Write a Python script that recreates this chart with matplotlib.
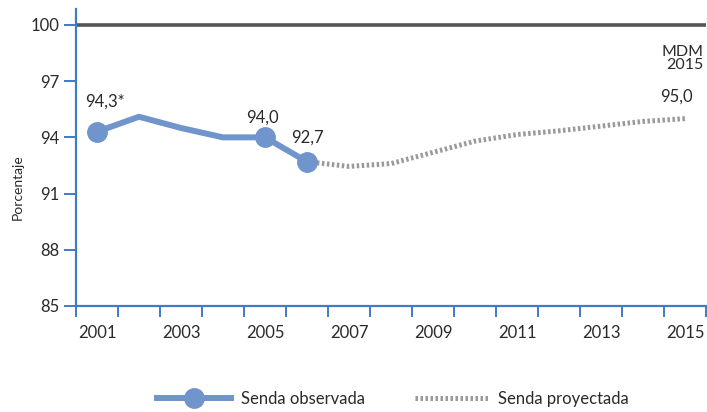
import matplotlib.pyplot as plt
from matplotlib.lines import Line2D

plt.rcParams['font.family'] = ['Lato', 'DejaVu Sans']

# Observed and projected series (percent)
obs_years = [2001, 2002, 2003, 2004, 2005, 2006]
obs_values = [94.3, 95.1, 94.5, 94.0, 94.0, 92.7]
proj_years = [2006, 2007, 2008, 2009, 2010, 2011, 2012, 2013, 2014, 2015]
proj_values = [92.7, 92.45, 92.6, 93.2, 93.8, 94.15, 94.35, 94.6, 94.85, 95.0]

# Points that carry a value label
label_years = [2001, 2005, 2006]
label_values = [94.3, 94.0, 92.7]
label_texts = ['94,3*', '94,0', '92,7']
target_year = 2015
target_value = 95.0
target_text = '95,0'

y_ticks = [85, 88, 91, 94, 97, 100]
x_label_years = [2001, 2003, 2005, 2007, 2009, 2011, 2013, 2015]

blue = '#7094cc'
axis_blue = '#3f7cc4'
grey = '#9a9a9a'
ink = '#2a2a2a'

fig = plt.figure(figsize=(7.07, 4.12), dpi=100, facecolor='white')
ax = fig.add_axes([76 / 707, 1 - 306 / 412, 630 / 707, 297 / 412])

ax.axhline(100, color='#555555', lw=2.6, zorder=1)

ax.plot(proj_years, proj_values, color=grey, lw=3.6,
        linestyle=(0, (0.5, 0.5)), solid_capstyle='butt', zorder=2)
ax.plot(obs_years, obs_values, color=blue, lw=4.3, solid_joinstyle='round', zorder=3)
mk_idx = [obs_years.index(y) for y in label_years]
ax.plot([obs_years[i] for i in mk_idx], [obs_values[i] for i in mk_idx],
        'o', color=blue, ms=14, zorder=4)

offsets = [(0.18, 1.6), (-0.05, 1.05), (0.0, 1.3)]
for yr, val, txt, (dx, dy) in zip(label_years, label_values, label_texts, offsets):
    ax.text(yr + dx, val + dy, txt, ha='center', va='center', fontsize=12, color=ink)
ax.text(target_year - 0.2, target_value + 1.2, target_text, ha='center', va='center',
        fontsize=12, color=ink)
ax.text(2015.45, 98.2, 'MDM\n2015', ha='right', va='center', fontsize=11.5,
        color=ink, linespacing=0.85)

ax.set_xlim(2000.5, 2015.5)
ax.set_ylim(85, 100.85)

# band boundaries carry the tick marks, odd years carry the labels
ax.set_xticks([y - 0.5 for y in range(2001, 2017)])
ax.set_xticklabels([])
ax.set_xticks(x_label_years, minor=True)
ax.set_xticklabels([str(y) for y in x_label_years], minor=True, fontsize=12, color=ink)
ax.tick_params(axis='x', which='major', length=8, width=1.4, color=axis_blue, direction='out')
ax.tick_params(axis='x', which='minor', length=0, pad=14)

ax.set_yticks(y_ticks)
ax.set_yticklabels([str(v) for v in y_ticks], fontsize=12, color=ink)
ax.tick_params(axis='y', length=9, width=1.4, color=axis_blue, pad=3)

for side in ['top', 'right']:
    ax.spines[side].set_visible(False)
for side in ['left', 'bottom']:
    ax.spines[side].set_color(axis_blue)
    ax.spines[side].set_linewidth(1.6)

fig.text(18 / 707, 1 - 187 / 412, 'Porcentaje', rotation=90, ha='center', va='center',
         fontsize=10, color=ink)

handles = [
    Line2D([0, 0.5, 1], [0, 0, 0], color=blue, lw=4.3, marker='o', ms=14, markevery=[1]),
    Line2D([], [], color=grey, lw=3.6, linestyle=(0, (0.5, 0.5)), solid_capstyle='butt'),
]
fig.legend(handles, ['Senda observada', 'Senda proyectada'], loc='center',
           bbox_to_anchor=(393 / 707, 1 - 399 / 412), ncol=2, frameon=False,
           fontsize=12, handlelength=4.4, handletextpad=0.6, columnspacing=3.0,
           labelcolor=ink)

fig.savefig('out.png', dpi=100, facecolor='white')
